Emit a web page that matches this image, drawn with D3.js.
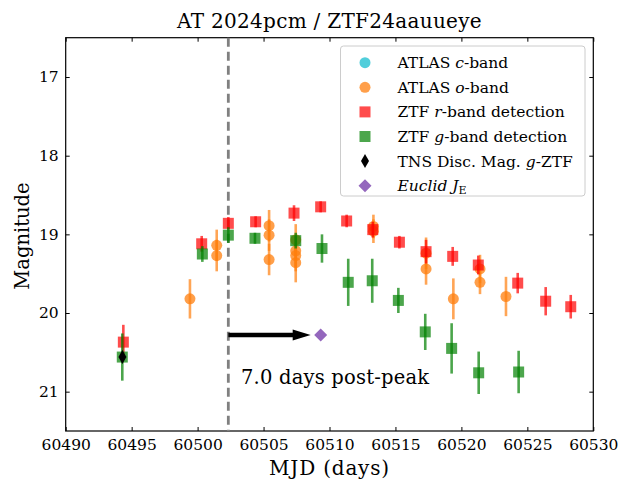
<!DOCTYPE html>
<html>
<head>
<meta charset="utf-8">
<script src="https://cdn.jsdelivr.net/npm/d3@7"></script>
<style>
body{margin:0;background:#fff}
</style>
</head>
<body>
<svg width="631" height="481"></svg>
<script>
// photometry, each row is [mjd, mag, err]
var atlasC = [];
var atlasO = [
	[60499.42,19.82,0.25],
	[60501.45,19.14,0.2],[60501.45,19.27,0.2],
	[60505.42,18.89,0.2],[60505.42,19.01,0.2],[60505.42,19.32,0.2],
	[60507.44,19.07,0.2],[60507.44,19.21,0.2],[60507.44,19.27,0.2],[60507.44,19.36,0.25],
	[60513.33,18.90,0.15],[60513.33,18.96,0.15],
	[60517.32,19.24,0.2],[60517.32,19.44,0.2],
	[60519.39,19.82,0.26],
	[60521.41,19.44,0.18],[60521.41,19.61,0.15],
	[60523.38,19.79,0.25]
];
var ztfR = [
	[60494.37,20.37,0.22],[60500.31,19.12,0.1],[60502.33,18.86,0.08],[60504.40,18.84,0.07],
	[60507.31,18.73,0.1],[60509.33,18.65,0.07],[60511.30,18.83,0.08],[60513.28,18.94,0.1],
	[60515.30,19.10,0.08],[60517.32,19.22,0.15],[60519.34,19.28,0.12],[60521.28,19.39,0.12],
	[60524.27,19.62,0.13],[60526.39,19.85,0.18],[60528.29,19.92,0.15]
];
var ztfG = [
	[60494.29,20.56,0.3],[60500.36,19.25,0.1],[60502.33,19.01,0.1],[60504.35,19.05,0.07],
	[60507.44,19.08,0.1],[60509.43,19.18,0.18],[60511.42,19.61,0.3],[60513.24,19.59,0.28],
	[60515.22,19.84,0.16],[60517.26,20.24,0.23],[60519.26,20.45,0.32],[60521.31,20.76,0.27],
	[60524.34,20.75,0.27]
];
var tnsDisc = [[60494.30,20.56]];
var euclidJ = [[60509.33,20.28]];
var peakMjd = 60502.33;
var xTicks = [60490,60495,60500,60505,60510,60515,60520,60525,60530];
var yTicks = [17,18,19,20,21];

var FONT = '"DejaVu Serif", serif';
var svg = d3.select('svg').attr('font-family', FONT);
var x = d3.scaleLinear().domain([60490,60530]).range([65.7,593.3]);
var y = d3.scaleLinear().domain([16.5,21.5]).range([37.7,431]);

var cols = {c:'#17becf', o:'#ff7f0e', r:'#ff0000', g:'#008000', euclid:'#9467bd'};

// axes, ticks pointing inwards like matplotlib "in"
svg.append('g').attr('transform','translate(0,431)')
	.call(d3.axisBottom(x).tickValues(xTicks).tickSize(-4).tickPadding(8).tickFormat(d3.format('d')));
svg.append('g').attr('transform','translate(0,37.7)')
	.call(d3.axisTop(x).tickValues(xTicks).tickSize(-4).tickFormat(''));
svg.append('g').attr('transform','translate(65.7,0)')
	.call(d3.axisLeft(y).tickValues(yTicks).tickSize(-4).tickPadding(7).tickFormat(d3.format('d')));
svg.append('g').attr('transform','translate(593.3,0)')
	.call(d3.axisRight(y).tickValues(yTicks).tickSize(-4).tickFormat(''));
svg.selectAll('.domain').remove();
svg.selectAll('g').attr('font-family', FONT);
svg.selectAll('.tick text').attr('font-size', 15.5).attr('fill','#000');
svg.selectAll('.tick line').attr('stroke','#000').attr('stroke-width',1);
svg.append('rect').attr('x',65.7).attr('y',37.7).attr('width',593.3-65.7).attr('height',431-37.7)
	.attr('fill','none').attr('stroke','#000').attr('stroke-width',1.2);

var plot = svg.append('g');

// peak line
plot.append('line').attr('x1',x(peakMjd)).attr('x2',x(peakMjd)).attr('y1',37.7).attr('y2',431)
	.attr('stroke','#808080').attr('stroke-width',2.8).attr('stroke-dasharray','9,5');

function errbars(data, col){
	plot.selectAll(null).data(data).enter().append('line')
		.attr('x1',d=>x(d[0])).attr('x2',d=>x(d[0]))
		.attr('y1',d=>y(d[1]-d[2])).attr('y2',d=>y(d[1]+d[2]))
		.attr('stroke',col).attr('stroke-width',2.6).attr('opacity',0.7);
}

errbars(atlasO, cols.o);
plot.selectAll(null).data(atlasO).enter().append('circle')
	.attr('cx',d=>x(d[0])).attr('cy',d=>y(d[1])).attr('r',5.5)
	.attr('fill',cols.o).attr('opacity',0.75);

errbars(ztfR, cols.r);
plot.selectAll(null).data(ztfR).enter().append('rect')
	.attr('x',d=>x(d[0])-5.5).attr('y',d=>y(d[1])-5.5).attr('width',11).attr('height',11)
	.attr('fill',cols.r).attr('opacity',0.7);

errbars(ztfG, cols.g);
plot.selectAll(null).data(ztfG).enter().append('rect')
	.attr('x',d=>x(d[0])-5.5).attr('y',d=>y(d[1])-5.5).attr('width',11).attr('height',11)
	.attr('fill',cols.g).attr('opacity',0.7);

plot.selectAll(null).data(tnsDisc).enter().append('path')
	.attr('transform',d=>'translate('+x(d[0])+','+y(d[1])+')')
	.attr('d','M0,-7L4,0L0,7L-4,0Z').attr('fill','#000');

// arrow peak -> euclid
var ay = y(euclidJ[0][1]);
var ax0 = x(peakMjd), ax1 = x(euclidJ[0][0]) - 10;
plot.append('line').attr('x1',ax0).attr('x2',ax1-14).attr('y1',ay).attr('y2',ay)
	.attr('stroke','#000').attr('stroke-width',4.5);
plot.append('path').attr('d','M'+ax1+','+ay+'L'+(ax1-18)+','+(ay-5.5)+'L'+(ax1-18)+','+(ay+5.5)+'Z')
	.attr('fill','#000');

plot.selectAll(null).data(euclidJ).enter().append('path')
	.attr('transform',d=>'translate('+x(d[0])+','+y(d[1])+')')
	.attr('d','M0,-6.5L6.5,0L0,6.5L-6.5,0Z').attr('fill',cols.euclid);

svg.append('text').attr('x',241).attr('y',384).attr('font-size',19.5).attr('letter-spacing',0.2)
	.text('7.0 days post-peak');

// titles
svg.append('text').attr('x',329.5).attr('y',28).attr('text-anchor','middle').attr('font-size',20)
	.attr('letter-spacing',0.3).text('AT 2024pcm / ZTF24aauueye');
svg.append('text').attr('x',329.5).attr('y',475).attr('text-anchor','middle').attr('font-size',20)
	.attr('letter-spacing',0.8).text('MJD (days)');
svg.append('text').attr('transform','translate(29,236) rotate(-90)').attr('text-anchor','middle')
	.attr('font-size',19.5).text('Magnitude');

// legend
var lg = svg.append('g');
lg.append('rect').attr('x',340.5).attr('y',46).attr('width',244.5).attr('height',150).attr('rx',3)
	.attr('fill','#fff').attr('fill-opacity',0.8).attr('stroke','#ccc').attr('stroke-width',1);
var rows = [
	{type:'circle', col:cols.c, parts:[['ATLAS ',0],['c',1],['-band',0]]},
	{type:'circle', col:cols.o, parts:[['ATLAS ',0],['o',1],['-band',0]]},
	{type:'square', col:cols.r, parts:[['ZTF ',0],['r',1],['-band detection',0]]},
	{type:'square', col:cols.g, parts:[['ZTF ',0],['g',1],['-band detection',0]]},
	{type:'thin', col:'#000', parts:[['TNS Disc. Mag. ',0],['g',1],['-ZTF',0]]},
	{type:'diamond', col:cols.euclid, parts:[['Euclid',1],[' ',0],['J',1],['E',2]]}
];
rows.forEach(function(r,i){
	var cy = 62.7 + i*24.6;
	if(r.type=='circle') lg.append('circle').attr('cx',365).attr('cy',cy).attr('r',5.5).attr('fill',r.col).attr('opacity',0.75);
	if(r.type=='square') lg.append('rect').attr('x',359.5).attr('y',cy-5.5).attr('width',11).attr('height',11).attr('fill',r.col).attr('opacity',0.7);
	if(r.type=='thin') lg.append('path').attr('d','M365,'+(cy-7)+'L369,'+cy+'L365,'+(cy+7)+'L361,'+cy+'Z').attr('fill',r.col);
	if(r.type=='diamond') lg.append('path').attr('d','M365,'+(cy-6.5)+'L371.5,'+cy+'L365,'+(cy+6.5)+'L358.5,'+cy+'Z').attr('fill',r.col);
	var t = lg.append('text').attr('x',397.5).attr('y',cy+5.5).attr('font-size',15.5);
	r.parts.forEach(function(p){
		var s = t.append('tspan').text(p[0]);
		if(p[1]==1) s.attr('font-style','italic');
		if(p[1]==2) s.attr('font-size',11).attr('dy',3);
	});
});
</script>
</body>
</html>
